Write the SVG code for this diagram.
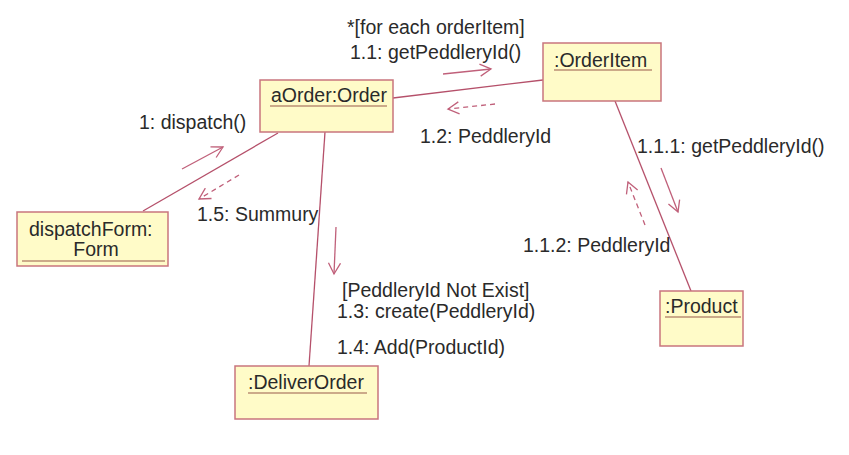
<svg xmlns="http://www.w3.org/2000/svg" width="849" height="455" viewBox="0 0 849 455">
<style>
.box{fill:#FFFBC8;stroke:#C9757D;stroke-width:1.5}
.ul{stroke:#9A5A4A;stroke-width:1.2}
.t{font-family:"Liberation Sans",Arial,sans-serif;font-size:19.5px;fill:#2a2a2a}
.link{stroke:#B5506A;stroke-width:1.3;fill:none}
.msg{stroke:#C0607A;stroke-width:1.3;fill:none}
.dash{stroke:#C0607A;stroke-width:1.3;fill:none;stroke-dasharray:5,4}
</style>
<defs>
<marker id="open" markerWidth="14" markerHeight="14" refX="12" refY="7" orient="auto" markerUnits="userSpaceOnUse">
<path d="M1,1 L12,7 L1,13" fill="none" stroke="#C0607A" stroke-width="1.3"/>
</marker>
</defs>
<rect width="849" height="455" fill="#ffffff"/>
<g id="connectors">
<line class="link" x1="393" y1="98" x2="543" y2="80"/>
<line class="link" x1="278" y1="133" x2="143" y2="211"/>
<line class="link" x1="325" y1="132" x2="309" y2="366"/>
<line class="link" x1="615" y1="101" x2="691" y2="291"/>
<line class="msg" x1="443" y1="74" x2="491" y2="69" marker-end="url(#open)"/>
<line class="dash" x1="495" y1="104" x2="448" y2="109" marker-end="url(#open)"/>
<line class="msg" x1="182" y1="169" x2="223" y2="147" marker-end="url(#open)"/>
<line class="dash" x1="239" y1="175" x2="199" y2="199" marker-end="url(#open)"/>
<line class="msg" x1="336" y1="227" x2="334" y2="274" marker-end="url(#open)"/>
<line class="msg" x1="661" y1="168" x2="678" y2="212" marker-end="url(#open)"/>
<line class="dash" x1="645" y1="225" x2="628" y2="182" marker-end="url(#open)"/>
<text class="t" x="347" y="34">*[for each orderItem]</text>
<text class="t" x="350" y="59">1.1: getPeddleryId()</text>
<text class="t" x="420" y="143">1.2: PeddleryId</text>
<text class="t" x="139" y="129">1: dispatch()</text>
<text class="t" x="197" y="221">1.5: Summury</text>
<text class="t" x="342" y="297">[PeddleryId Not Exist]</text>
<text class="t" x="337" y="318">1.3: create(PeddleryId)</text>
<text class="t" x="337" y="354">1.4: Add(ProductId)</text>
<text class="t" x="637" y="153">1.1.1: getPeddleryId()</text>
<text class="t" x="523" y="252">1.1.2: PeddleryId</text>
</g>
<g id="aOrder">
<rect class="box" x="260" y="80" width="133" height="52"/>
<text class="t" x="271" y="102">aOrder:Order</text>
<line class="ul" x1="270" y1="106" x2="387" y2="106"/>
</g>
<g id="orderItem">
<rect class="box" x="543" y="43" width="118" height="58"/>
<text class="t" x="554" y="67">:OrderItem</text>
<line class="ul" x1="554" y1="70" x2="652" y2="70"/>
</g>
<g id="dispatchForm">
<rect class="box" x="17" y="212" width="151" height="54"/>
<text class="t" x="29" y="236">dispatchForm:</text>
<text class="t" x="96" y="256" text-anchor="middle">Form</text>
<line class="ul" x1="22" y1="261" x2="165" y2="261"/>
</g>
<g id="deliverOrder">
<rect class="box" x="235" y="366" width="143" height="53"/>
<text class="t" x="248" y="389">:DeliverOrder</text>
<line class="ul" x1="248" y1="393" x2="367" y2="393"/>
</g>
<g id="product">
<rect class="box" x="660" y="291" width="83" height="55"/>
<text class="t" x="665" y="313">:Product</text>
<line class="ul" x1="665" y1="317" x2="741" y2="317"/>
</g>
</svg>
